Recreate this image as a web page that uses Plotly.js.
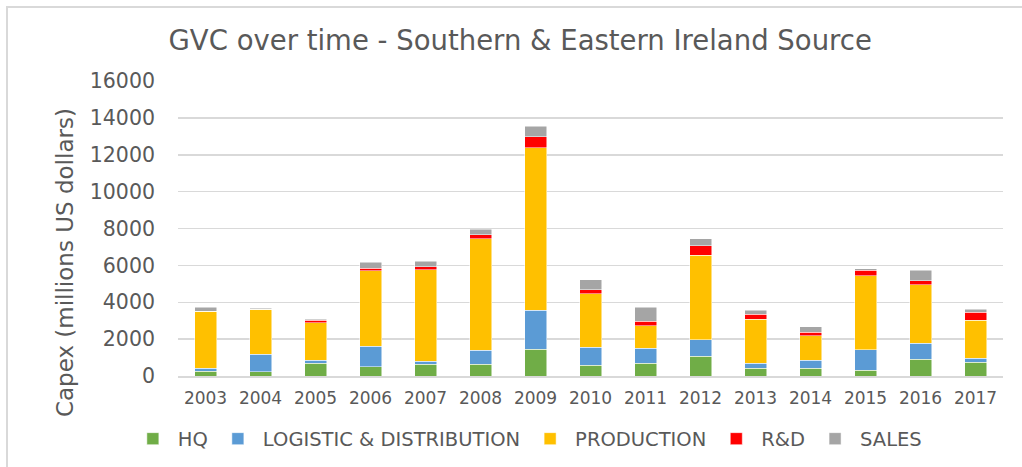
<!DOCTYPE html>
<html>
<head>
<meta charset="utf-8">
<script src="https://cdn.plot.ly/plotly-3.0.1.min.js"></script>
<style>
  html, body { margin: 0; padding: 0; background: #ffffff; }
  #wrap { position: relative; width: 1022px; height: 467px; overflow: hidden; }
  #chart { width: 1022px; height: 467px; }
  #frame { position: absolute; left: 6px; top: 6px; width: 1100px; height: 600px;
           border-left: 2px solid #d9d9d9; border-top: 2px solid #d9d9d9; pointer-events: none; }
</style>
</head>
<body>
<div id="wrap">
  <div id="chart"></div>
  <div id="frame"></div>
</div>
<script>
const years = ['2003','2004','2005','2006','2007','2008','2009','2010','2011','2012','2013','2014','2015','2016','2017'];
const hq         = [250, 235, 686, 505, 631, 631, 1461, 577, 686, 1082, 415, 415, 307, 902, 740];
const logistic   = [180, 956, 180, 1119, 163, 776, 2111, 992, 829, 884, 271, 451, 1118, 884, 234];
const production = [3085, 2435, 2020, 4095, 4979, 6044, 8803, 2887, 1209, 4583, 2381, 1317, 4023, 3157, 2039];
const rnd        = [0, 0, 127, 126, 144, 216, 614, 234, 253, 505, 288, 180, 289, 234, 451];
const sales      = [216, 54, 54, 325, 307, 289, 559, 542, 757, 397, 199, 307, 90, 560, 162];
const seriesNames = ['HQ', 'LOGISTIC & DISTRIBUTION', 'PRODUCTION', 'R&D', 'SALES'];
const seriesColors = ['#70ad47', '#5b9bd5', '#ffc000', '#ff0000', '#a5a5a5'];
const seriesValues = [hq, logistic, production, rnd, sales];

const FONT = '"DejaVu Sans", sans-serif';
const GREY = '#595959';

const traces = seriesValues.map((vals, i) => ({
  type: 'bar',
  name: seriesNames[i],
  x: years,
  y: vals,
  marker: { color: seriesColors[i], line: { color: '#ffffff', width: 0.5 } },
  hoverinfo: 'x+y+name'
}));

const layout = {
  width: 1022,
  height: 467,
  barmode: 'stack',
  bargap: 0.6,
  paper_bgcolor: '#ffffff',
  plot_bgcolor: '#ffffff',
  margin: { l: 178, r: 19, t: 81, b: 91, pad: 0 },
  font: { family: FONT, color: GREY, size: 16 },
  title: {
    text: 'GVC over time - Southern & Eastern Ireland Source',
    font: { family: FONT, size: 27.5, color: GREY },
    xref: 'container', x: 0.509, xanchor: 'center',
    yref: 'container', y: 0.914, yanchor: 'middle'
  },
  xaxis: {
    type: 'category',
    showgrid: false,
    showline: true,
    linecolor: '#d9d9d9',
    linewidth: 1.5,
    ticks: '',
    tickfont: { family: FONT, size: 17, color: GREY },
    ticklabelstandoff: 6
  },
  yaxis: {
    range: [0, 16000],
    dtick: 2000,
    tick0: 0,
    tickformat: 'd',
    showgrid: true,
    gridcolor: '#d9d9d9',
    gridwidth: 1.5,
    zeroline: false,
    showline: false,
    ticks: '',
    tickfont: { family: FONT, size: 20.5, color: GREY },
    ticklabelstandoff: 22,
    automargin: false
  },
  annotations: [{
    text: 'Capex (millions US dollars)',
    textangle: -90,
    xref: 'paper', yref: 'paper',
    x: -0.137, y: 0.386,
    xanchor: 'center', yanchor: 'middle',
    showarrow: false,
    font: { family: FONT, size: 23, color: GREY }
  }],
  showlegend: true,
  legend: {
    orientation: 'h',
    traceorder: 'normal',
    xref: 'container', x: 0.516, xanchor: 'center',
    yref: 'container', y: 0.06, yanchor: 'middle',
    font: { family: FONT, size: 19.5, color: GREY },
    itemwidth: 40,
    bgcolor: 'rgba(0,0,0,0)'
  }
};

Plotly.newPlot('chart', traces, layout, { displayModeBar: false, staticPlot: true });
</script>
</body>
</html>
